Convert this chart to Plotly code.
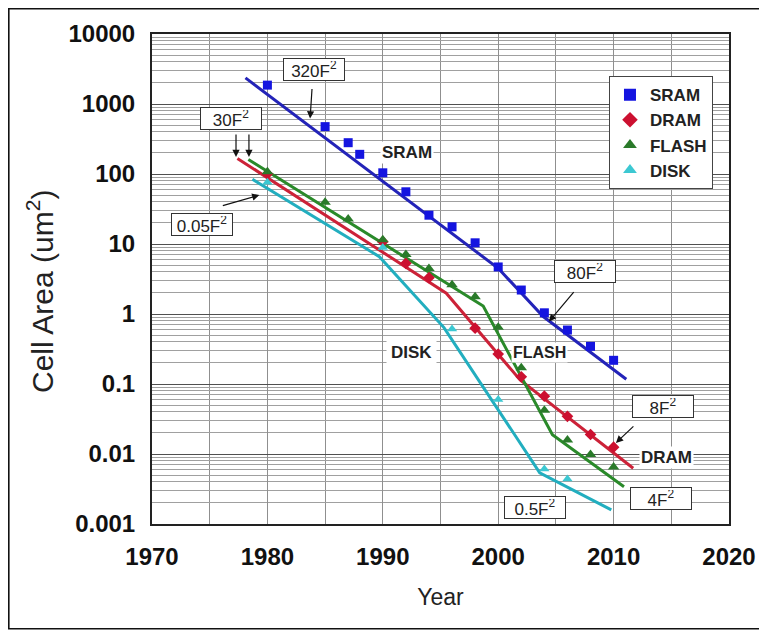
import math
import plotly.graph_objects as go

# ---------------- data ----------------
sram_years = [1980, 1985, 1987, 1988, 1990, 1992, 1994, 1996, 1998, 2000, 2002, 2004, 2006, 2008, 2010]
sram_vals = [1860, 475, 280, 191, 104, 55.7, 25.8, 17.6, 10.4, 4.7, 2.2, 1.04, 0.59, 0.345, 0.218]

dram_years = [1980, 1990, 1992, 1994, 1998, 2000, 2002, 2004, 2006, 2008, 2010]
dram_vals = [100, 10.8, 5.3, 3.3, 0.627, 0.268, 0.127, 0.067, 0.0345, 0.019, 0.0125]

flash_years = [1980, 1985, 1987, 1990, 1992, 1994, 1996, 1998, 2000, 2002, 2004, 2006, 2008, 2010]
flash_vals = [108, 39.5, 22.8, 11.5, 7.1, 4.45, 2.62, 1.77, 0.645, 0.17, 0.042, 0.0158, 0.0098, 0.0065]

disk_years = [1980, 1990, 1996, 2000, 2004, 2006]
disk_vals = [76, 8.9, 0.61, 0.06, 0.0061, 0.0044]

# trend lines
sram_fit_years = [1978.1, 2000.0, 2003.9, 2011.1]
sram_fit_vals = [2360, 4.5, 0.92, 0.117]

dram_fit_years = [1977.4, 1995.5, 2001.9, 2011.7]
dram_fit_vals = [167, 1.98, 0.114, 0.00625]

flash_fit_years = [1978.35, 1998.7, 2004.7, 2010.9]
flash_fit_vals = [161, 1.3, 0.0188, 0.0034]

disk_fit_years = [1978.7, 1989.7, 1995.3, 2003.6, 2009.8]
disk_fit_vals = [84, 6.6, 0.64, 0.0054, 0.00159]

x_ticks = [1970, 1980, 1990, 2000, 2010, 2020]
y_ticks = [0.001, 0.01, 0.1, 1, 10, 100, 1000, 10000]
y_tick_text = ["0.001", "0.01", "0.1", "1", "10", "100", "1000", "10000"]

# ---------------- styles ----------------
C_SRAM_L, C_SRAM_M = "#2323b8", "#1414e0"
C_DRAM_L, C_DRAM_M = "#cc2238", "#cc1030"
C_FLASH_L, C_FLASH_M = "#2a8a2a", "#2a7a2a"
C_DISK_L, C_DISK_M = "#22aebf", "#3cc8d2"

FONT = "Liberation Sans, Arial, sans-serif"

fig = go.Figure()

for yrs, vals, col in [(sram_fit_years, sram_fit_vals, C_SRAM_L),
                       (dram_fit_years, dram_fit_vals, C_DRAM_L),
                       (flash_fit_years, flash_fit_vals, C_FLASH_L),
                       (disk_fit_years, disk_fit_vals, C_DISK_L)]:
    fig.add_trace(go.Scatter(x=yrs, y=vals, mode="lines", showlegend=False,
                             line=dict(color=col, width=3), hoverinfo="skip"))

for name, yrs, vals, col, sym, size in [
        ("SRAM", sram_years, sram_vals, C_SRAM_M, "square", 9),
        ("DRAM", dram_years, dram_vals, C_DRAM_M, "diamond", 9),
        ("FLASH", flash_years, flash_vals, C_FLASH_M, "triangle-up", 10),
        ("DISK", disk_years, disk_vals, C_DISK_M, "triangle-up", 9)]:
    fig.add_trace(go.Scatter(x=yrs, y=vals, mode="markers", name=name,
                             marker=dict(color=col, symbol=sym, size=size, line=dict(width=0))))

# minor gridlines (2..9 per decade)
minor_vals = [m * 10 ** e for e in range(-3, 4) for m in range(2, 10)]

fig.update_xaxes(range=[1970, 2020], tickvals=x_ticks, ticks="",
                 showgrid=True, gridcolor="#8f8f8f", gridwidth=1,
                 minor=dict(dtick=5, showgrid=True, gridcolor="#8f8f8f", gridwidth=1, ticks=""),
                 showline=True, linecolor="#222", linewidth=2, mirror=True,
                 tickfont=dict(family=FONT, size=24, color="#111", weight="bold"),
                 ticklabelstandoff=10,
                 title=dict(text="Year", font=dict(family=FONT, size=23, color="#222"), standoff=20),
                 zeroline=False)

fig.update_yaxes(type="log", range=[-3, 4], tickvals=y_ticks, ticktext=y_tick_text, ticks="",
                 showgrid=True, gridcolor="#505050", gridwidth=1.4,
                 minor=dict(tickmode="array", tickvals=minor_vals, showgrid=True,
                            gridcolor="#a0a0a0", gridwidth=1, ticks=""),
                 showline=True, linecolor="#222", linewidth=2, mirror=True,
                 tickfont=dict(family=FONT, size=24, color="#111", weight="bold"),
                 ticklabelstandoff=10,
                 zeroline=False)


def L(v):
    return math.log10(v)


W, H = 759, 622
ML, MT, PW, PH = 144, 26, 577, 490

box_font = dict(family=FONT, size=17, color="#222")
annotations = []
# y-axis title (placed as rotated text, slightly below the plot centre as in the reference)
annotations.append(dict(x=(32 - ML) / PW, y=(MT + PH - 284) / PH, xref="paper", yref="paper",
                        xanchor="center", yanchor="middle",
                        text="Cell Area (um<sup>2</sup>)", textangle=-90, showarrow=False,
                        font=dict(family=FONT, size=30, color="#222")))
# boxed labels: (text, year, value)
for txt, xv, yv in [("320F<sup>2</sup>", 1984.0, 3160),
                    ("30F<sup>2</sup>", 1976.85, 620),
                    ("0.05F<sup>2</sup>", 1974.35, 19.3),
                    ("80F<sup>2</sup>", 2007.5, 4.1),
                    ("8F<sup>2</sup>", 2014.3, 0.0485),
                    ("4F<sup>2</sup>", 2014.1, 0.00235),
                    ("0.5F<sup>2</sup>", 2003.2, 0.0017)]:
    annotations.append(dict(x=xv, y=L(yv), xref="x", yref="y", text=txt, showarrow=False,
                            font=box_font, bgcolor="white", bordercolor="#333", borderwidth=1,
                            borderpad=2, width=56, height=17))
# plain labels with white background
for txt, xv, yv in [("SRAM", 1992.1, 200),
                    ("DISK", 1992.5, 0.286),
                    ("FLASH", 2003.6, 0.286),
                    ("DRAM", 2014.6, 0.0089)]:
    annotations.append(dict(x=xv, y=L(yv), xref="x", yref="y", text="<b>%s</b>" % txt, showarrow=False,
                            font=dict(family=FONT, size=17 if txt != "FLASH" else 16, color="#222"),
                            bgcolor="white",
                            borderpad=4 if txt == "DISK" else 1))
# arrows: head (year, value), tail offset px
for xv, yv, axp, ayp in [(1983.7, 620, 2, -31),
                         (1977.28, 175, 0, -24),
                         (1978.4, 175, 0, -24),
                         (1979.3, 50, -38, 11),
                         (2004.4, 0.78, 26, -31),
                         (2010.2, 0.0144, 19, -18)]:
    annotations.append(dict(x=xv, y=L(yv), xref="x", yref="y", text="", showarrow=True,
                            ax=axp, ay=ayp, arrowhead=2, arrowsize=1.2, arrowwidth=1.2,
                            arrowcolor="#111"))

fig.update_layout(
    width=W, height=H,
    margin=dict(l=ML, r=W - ML - PW, t=MT, b=H - MT - PH),
    paper_bgcolor="white", plot_bgcolor="white",
    font=dict(family=FONT),
    annotations=annotations,
    legend=dict(x=0.792, y=0.914, xanchor="left", yanchor="top",
                bgcolor="white", bordercolor="#444", borderwidth=1,
                font=dict(family=FONT, size=17, color="#222", weight="bold"),
                itemsizing="constant", tracegroupgap=0),
    shapes=[dict(type="rect", xref="paper", yref="paper",
                 x0=(0.8 - ML) / PW, x1=(W - 1.2 - ML) / PW,
                 y0=(MT + PH - (H - 1.2)) / PH, y1=(MT + PH - 0.8) / PH,
                 line=dict(color="#111", width=1.6))],
)

fig.write_html("out.html")
